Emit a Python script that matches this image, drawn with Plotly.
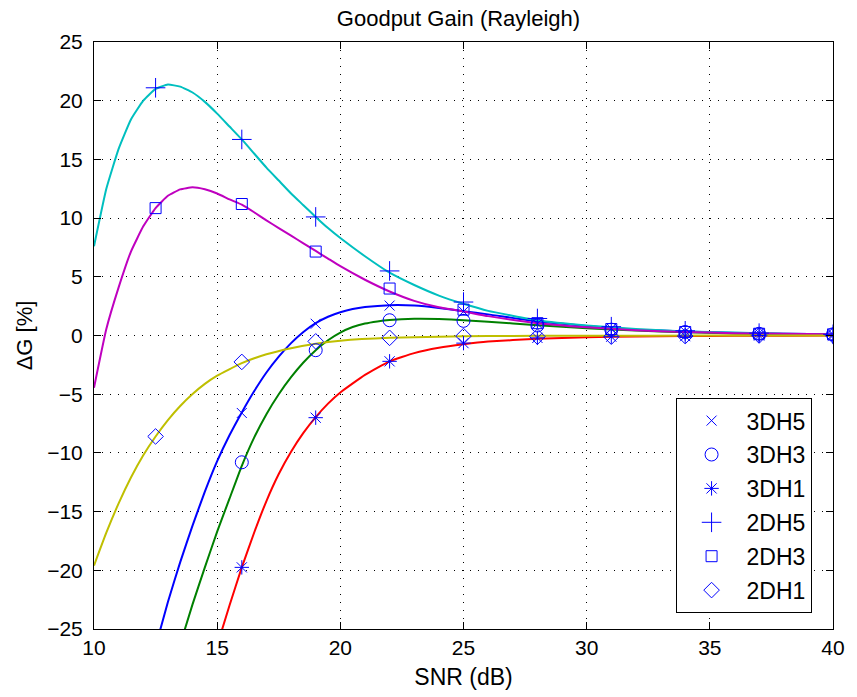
import plotly.graph_objects as go

# ---------------- data ----------------
snr_pts = [12.5, 16, 19, 22, 25, 28, 31, 34, 37, 40]

m_3dh5 = [None, -6.6, 1.0, 2.55, 2.05, 1.0, 0.6, 0.35, 0.2, 0.1]
m_3dh3 = [None, -10.8, -1.25, 1.3, 1.25, 0.85, 0.5, 0.3, 0.15, 0.1]
m_3dh1 = [None, -19.75, -7.0, -2.2, -0.65, -0.2, -0.1, -0.05, 0.0, 0.0]
m_2dh5 = [21.1, 16.7, 10.1, 5.5, 2.85, 1.45, 0.75, 0.4, 0.2, 0.1]
m_2dh3 = [10.85, 11.2, 7.15, 4.0, 2.2, 1.05, 0.55, 0.3, 0.15, 0.1]
m_2dh1 = [-8.6, -2.25, -0.5, -0.2, -0.05, -0.1, -0.1, -0.05, 0.0, 0.0]

# theory curves
x_2dh5 = [10, 10.5, 11, 11.5, 12, 12.5, 13, 13.5, 14, 14.5, 15, 15.5, 16, 16.5, 17, 17.5, 18, 18.5, 19,
          19.5, 20, 21, 22, 23, 24, 25, 26, 28, 30, 32, 34, 36, 38, 40]
y_2dh5 = [7.6, 12.5, 15.9, 18.4, 20.0, 21.0, 21.37, 21.2, 20.7, 19.9, 18.9, 17.8, 16.7, 15.5, 14.3, 13.2,
          12.1, 11.1, 10.1, 9.15, 8.3, 6.75, 5.35, 4.3, 3.4, 2.7, 2.1, 1.3, 0.85, 0.55, 0.35, 0.25, 0.15, 0.1]

x_2dh3 = [10, 10.5, 11, 11.5, 12, 12.5, 13, 13.5, 14, 14.5, 15, 15.5, 16, 16.5, 17, 17.5, 18, 18.5, 19,
          19.5, 20, 21, 22, 23, 24, 25, 26, 28, 30, 32, 34, 36, 38, 40]
y_2dh3 = [-4.45, 0.55, 4.1, 7.15, 9.3, 10.85, 11.9, 12.45, 12.62, 12.45, 12.1, 11.6, 11.15, 10.5, 9.8,
          9.15, 8.5, 7.85, 7.2, 6.55, 5.9, 4.75, 3.75, 2.95, 2.4, 2.05, 1.65, 1.05, 0.7, 0.45, 0.3, 0.2,
          0.15, 0.1]

x_2dh1 = [10, 10.5, 11, 11.5, 12, 12.5, 13, 13.5, 14, 14.5, 15, 16, 17, 18, 19, 20, 22, 24, 26, 28, 30,
          35, 40]
y_2dh1 = [-19.6, -16.8, -14.3, -12.1, -10.2, -8.6, -7.2, -6.0, -4.98, -4.12, -3.42, -2.35, -1.6, -1.08,
          -0.7, -0.45, -0.2, -0.1, -0.05, -0.03, -0.02, -0.01, 0.0]

x_3dh5 = [12.5, 13, 13.5, 14, 14.5, 15, 15.5, 16, 16.5, 17, 17.5, 18, 18.5, 19, 19.5, 20, 20.5, 21, 22,
          23, 24, 25, 26, 28, 30, 32, 34, 36, 38, 40]
y_3dh5 = [-26.5, -22.7, -19.3, -16.2, -13.3, -10.7, -8.5, -6.55, -4.75, -3.15, -1.8, -0.65, 0.3, 1.05,
          1.6, 1.98, 2.25, 2.42, 2.58, 2.55, 2.35, 2.07, 1.8, 1.2, 0.8, 0.5, 0.35, 0.22, 0.15, 0.1]

x_3dh3 = [13.5, 14, 14.5, 15, 15.5, 16, 16.5, 17, 17.5, 18, 18.5, 19, 19.5, 20, 20.5, 21, 21.5, 22, 23,
          24, 25, 26, 28, 30, 32, 34, 36, 38, 40]
y_3dh3 = [-26.3, -22.9, -19.75, -16.7, -13.9, -11.1, -8.7, -6.7, -5.0, -3.55, -2.3, -1.25, -0.4, 0.25,
          0.72, 1.02, 1.2, 1.32, 1.42, 1.4, 1.3, 1.18, 0.88, 0.62, 0.42, 0.28, 0.18, 0.12, 0.08]

x_3dh1 = [15, 15.5, 16, 16.5, 17, 17.5, 18, 18.5, 19, 19.5, 20, 21, 22, 23, 24, 25, 26, 28, 30, 32, 34,
          36, 38, 40]
y_3dh1 = [-26.4, -23.0, -19.75, -16.8, -14.1, -11.8, -9.9, -8.3, -6.95, -5.8, -4.85, -3.35, -2.2, -1.5,
          -1.05, -0.75, -0.52, -0.28, -0.15, -0.08, -0.05, -0.03, -0.02, -0.01]

names = ["3DH5", "3DH3", "3DH1", "2DH5", "2DH3", "2DH1"]
symbols = ["x-thin-open", "circle-open", "asterisk-open", "cross-thin-open", "square-open", "diamond-open"]
sizes = [10, 13, 12, 14, 11, 12]

x_ticks = [10, 15, 20, 25, 30, 35, 40]
y_ticks = [-25, -20, -15, -10, -5, 0, 5, 10, 15, 20, 25]

# ---------------- figure ----------------
FONT = "Liberation Sans, Arial, Helvetica, sans-serif"
fig = go.Figure()

curves = [
    (x_3dh5, y_3dh5, "#0000FF"),
    (x_3dh3, y_3dh3, "#008000"),
    (x_3dh1, y_3dh1, "#FF0000"),
    (x_2dh5, y_2dh5, "#00BFBF"),
    (x_2dh3, y_2dh3, "#BF00BF"),
    (x_2dh1, y_2dh1, "#BFBF00"),
]
for xs, ys, col in curves:
    fig.add_trace(go.Scatter(x=xs, y=ys, mode="lines", showlegend=False, hoverinfo="skip",
                             line=dict(color=col, width=2, shape="spline", smoothing=0.4)))

marker_sets = [m_3dh5, m_3dh3, m_3dh1, m_2dh5, m_2dh3, m_2dh1]
for i, (nm, ys) in enumerate(zip(names, marker_sets)):
    fig.add_trace(go.Scatter(
        x=snr_pts, y=ys, mode="markers", name=nm, legendgroup=nm,
        marker=dict(symbol=symbols[i], size=sizes[i], color="#0000FF",
                    line=dict(color="#0000FF", width=1)),
    ))

def fmt(v):
    return ("\u2212" + str(-v)) if v < 0 else str(v)

axis_common = dict(showline=True, linecolor="black", linewidth=1, mirror="ticks",
                   ticks="inside", ticklen=7, tickcolor="black", tickwidth=1,
                   showgrid=True, gridcolor="black", gridwidth=1, griddash="1px,7px",
                   zeroline=False, tickfont=dict(family=FONT, size=21, color="black"))

fig.update_xaxes(range=[10, 40], tickvals=x_ticks, ticktext=[fmt(v) for v in x_ticks],
                 title=dict(text="SNR (dB)", font=dict(family=FONT, size=23, color="black"), standoff=10),
                 **axis_common)
fig.update_yaxes(range=[-25, 25], tickvals=y_ticks, ticktext=[fmt(v) for v in y_ticks],
                 ticklabelstandoff=6,
                 title=dict(text="\u0394G [%]", font=dict(family=FONT, size=22, color="black"), standoff=8),
                 **axis_common)

fig.update_layout(
    width=857, height=697,
    margin=dict(l=94, r=20, t=42, b=67),
    paper_bgcolor="white", plot_bgcolor="white",
    title=dict(text="Goodput Gain (Rayleigh)", x=0.535, xanchor="center", y=0.974, yanchor="middle",
               font=dict(family=FONT, size=22, color="black")),
    font=dict(family=FONT, size=21, color="black"),
    legend=dict(x=0.971, xanchor="right", y=0.027, yanchor="bottom",
                bgcolor="white", bordercolor="black", borderwidth=1,
                font=dict(family=FONT, size=23, color="black"),
                itemwidth=60, traceorder="grouped", tracegroupgap=1),
)

fig.write_html("out.html")
